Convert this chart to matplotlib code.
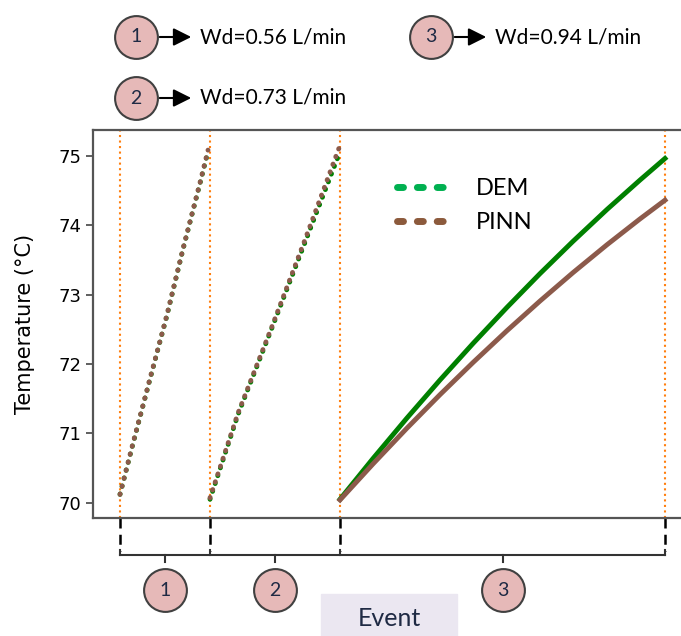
import matplotlib
matplotlib.use('Agg')
import matplotlib.pyplot as plt
from matplotlib.lines import Line2D
from matplotlib.patches import Rectangle

# Event boundaries (time, arbitrary units) and flow rates
bounds = [0, 90, 220, 545]
event_ids = ['1', '2', '3']
flow_labels = ['Wd=0.56 L/min', 'Wd=0.73 L/min', 'Wd=0.94 L/min']

# Event 1
t1 = [0, 13, 30, 47, 63, 80, 88]
dem1 = [70.12, 70.85, 71.78, 72.70, 73.65, 74.60, 75.06]
pinn1 = [70.12, 70.86, 71.79, 72.71, 73.66, 74.61, 75.08]

# Event 2
t2 = [90, 118, 152, 185, 219]
dem2 = [70.05, 71.27, 72.52, 73.75, 75.02]
pinn2 = [70.07, 71.29, 72.54, 73.79, 75.11]

# Event 3
t3 = [220, 253, 287, 320, 353, 387, 420, 453, 487, 520, 545]
dem3 = [70.050, 70.637, 71.221, 71.768, 72.294, 72.815, 73.301, 73.766, 74.225, 74.649, 74.960]
pinn3 = [70.040, 70.559, 71.075, 71.557, 72.020, 72.479, 72.906, 73.315, 73.717, 74.089, 74.359]

green = '#008000'
brown = '#8c5a4b'
pink = '#e6b9b8'
edge = '#404040'

W, H = 681, 636
fig = plt.figure(figsize=(W / 100, H / 100), dpi=100)
ax = fig.add_axes([93 / W, 1 - 518 / H, 1 - 93 / W, (518 - 130) / H])

dots = dict(lw=3.5, ls=(0, (0.1, 1.6)), dash_capstyle='round')
ax.plot(t1, dem1, color=green, **dots)
ax.plot(t1, pinn1, color=brown, **dots)
ax.plot(t2, dem2, color=green, **dots)
ax.plot(t2, pinn2, color=brown, **dots)
ax.plot(t3, dem3, color=green, lw=3.5, solid_joinstyle='round')
ax.plot(t3, pinn3, color=brown, lw=3.5, solid_joinstyle='round')

for b in bounds:
    ax.axvline(b, color='#ff7f0e', ls=':', lw=1.5, zorder=0)

ax.set_xlim(-27, 561)
ax.set_ylim(69.78, 75.37)
ax.set_xticks([])
ax.set_yticks([70, 71, 72, 73, 74, 75])
ax.tick_params(axis='y', direction='out', length=5, width=1.2, color='#444444', labelsize=13)
for lab in ax.get_yticklabels():
    lab.set_family('DejaVu Sans')
for s in ['left', 'top', 'bottom']:
    ax.spines[s].set_color('#555555')
    ax.spines[s].set_linewidth(1.6)
ax.spines['right'].set_visible(False)
ax.set_ylabel('Temperature (°C)', fontsize=15, family='DejaVu Sans')
ax.yaxis.set_label_coords(-0.098, 0.5)

# Legend
hstyle = dict(lw=5, ls=(0, (0.86, 2.0)), dash_capstyle='round')
handles = [Line2D([], [], color='#00b050', **hstyle),
           Line2D([], [], color='#8c5a3c', **hstyle)]
ax.legend(handles, ['DEM', 'PINN'], loc='upper left', bbox_to_anchor=(376 / W, 1 - 157 / H),
          bbox_transform=fig.transFigure, frameon=False, handlelength=1.95, handletextpad=1.4,
          labelspacing=0.55, prop={'family': 'Lato', 'size': 17})

# Bracket below the axis
xt = ax.get_xaxis_transform()
for b in bounds:
    ax.plot([b, b], [0, -0.085], transform=xt, color='k', lw=1.8, ls=(0, (4, 2.5)), clip_on=False)
    ax.plot([b, b], [-0.083, -0.095], transform=xt, color='#333333', lw=1.5, clip_on=False)
ax.plot([bounds[0], bounds[-1]], [-0.095, -0.095], transform=xt, color='#333333', lw=1.5, clip_on=False)
for i, lab in enumerate(event_ids):
    c = (bounds[i] + bounds[i + 1]) / 2
    ax.plot([c, c], [-0.095, -0.113], transform=xt, color='#333333', lw=1.5, clip_on=False)
    ax.scatter([c], [-0.186], s=950, transform=xt, color=pink, edgecolor=edge, lw=1.5, clip_on=False)
    ax.text(c, -0.186, lab, transform=xt, ha='center', va='center', fontsize=14,
            family='Lato', color='#1f2a44')

# Overlay in pixel coordinates for the header notes and "Event" box
ov = fig.add_axes([0, 0, 1, 1])
ov.set_xlim(0, W)
ov.set_ylim(H, 0)
ov.axis('off')

ov.add_patch(Rectangle((321, 594), 136, 45, color='#ebe7f1', zorder=1))
ov.text(389, 618, 'Event', ha='center', va='center', fontsize=18, family='Lato', color='#1f2a44', zorder=2)

notes = [(136, 37, 0), (136, 98, 1), (431, 37, 2)]
for cx, cy, i in notes:
    ov.scatter([cx], [cy], s=950, color=pink, edgecolor=edge, lw=1.5, zorder=3)
    ov.text(cx, cy, event_ids[i], ha='center', va='center', fontsize=14, family='Lato',
            color='#1f2a44', zorder=4)
    ov.annotate('', xy=(cx + 58, cy), xytext=(cx + 21, cy),
                arrowprops=dict(arrowstyle='-|>', mutation_scale=27, color='k', lw=1.5))
    ov.text(cx + 64, cy, flow_labels[i], ha='left', va='center', fontsize=15, family='Lato', color='k')

fig.savefig('out.png', dpi=100)
